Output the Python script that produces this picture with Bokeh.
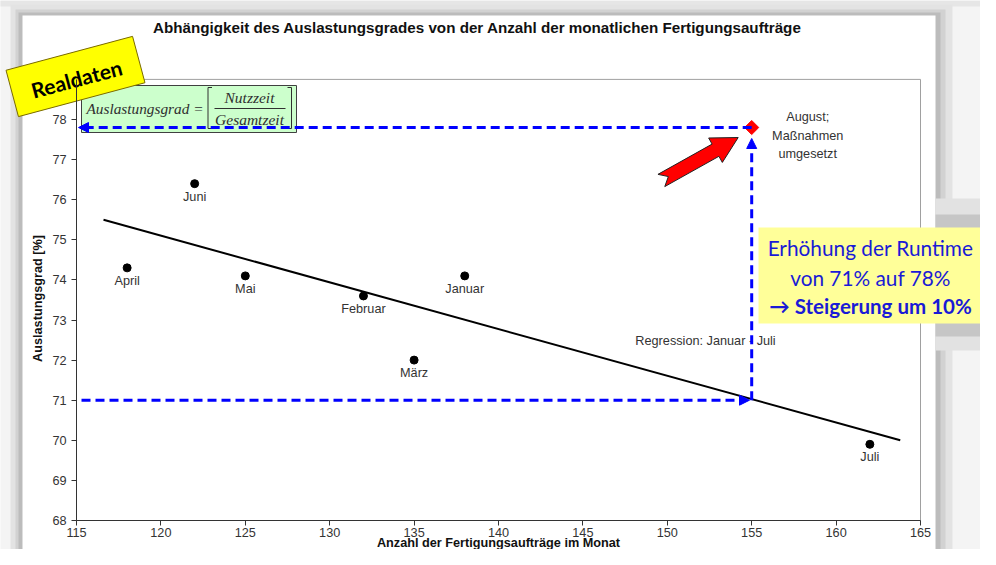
import math
from bokeh.plotting import figure
from bokeh.models import Range1d, FixedTicker, Arrow, NormalHead
from bokeh.embed import file_html
from bokeh.resources import INLINE
from bokeh.core.properties import value

# ---------------- data ----------------
months = ["Januar", "Februar", "März", "April", "Mai", "Juni", "Juli"]
orders = [138, 132, 135, 118, 125, 122, 162]
utilization = [74.1, 73.6, 72.0, 74.3, 74.1, 76.4, 69.9]
august_orders = [155]
august_util = [77.8]
august_label = ["August;\nMaßnahmen\numgesetzt"]
trend_x = [116.6, 163.8]
trend_y = [75.5, 70.0]
util_before = 71.0
util_after = 77.8
x_ticks = [115, 120, 125, 130, 135, 140, 145, 150, 155, 160, 165]
y_ticks = [68, 69, 70, 71, 72, 73, 74, 75, 76, 77, 78]
x_min, x_max = 115, 165
y_min, y_max = 68, 79

title = "Abhängigkeit des Auslastungsgrades von der Anzahl der monatlichen Fertigungsaufträge"
x_title = "Anzahl der Fertigungsaufträge im Monat"
y_title = "Auslastungsgrad [%]"
box_lines = ["Erhöhung der Runtime", "von 71% auf 78%", "→ Steigerung um 10%"]

# ---------------- layout helpers (canvas px -> data) ----------------
PX = 16.88   # px per order
PY = 40.1    # px per percent
SX0, SY0 = 76, 520   # canvas position of (115, 68)
W, H = 980, 549


def dx(sx):
    return x_min + (sx - SX0) / PX


def dy(sy):
    return y_min + (SY0 - sy) / PY


FONT = value("Liberation Sans")
FS = "12.7px"

p = figure(width=W, height=H,
           x_range=Range1d(dx(0), dx(W)), y_range=Range1d(dy(H), dy(0)),
           output_backend="svg", toolbar_location=None, min_border=0,
           background_fill_color="#f4f4f4", border_fill_color="#f4f4f4",
           outline_line_color=None)
p.grid.visible = False


def sbox(x0, y0, x1, y1, **kw):
    p.quad(left=dx(x0), right=dx(x1), top=dy(y0), bottom=dy(y1), **kw)


# background shadow + white chart panel
sbox(-5, 0, 1000, 6, fill_color="#e6e6e6", line_color=None)
sbox(10, 4, 952, 600, fill_color="#e3e3e3", line_color=None)
sbox(15, 9, 945, 600, fill_color="#d2d2d2", line_color=None)
sbox(18, 12, 940, 600, fill_color="#bcbcbc", line_color=None)
sbox(22, 15, 935, 600, fill_color="white", line_color=None)

# shadow behind the yellow box on the right
sbox(935, 198, 1000, 350, fill_color="#e2e2e2", line_color=None)
sbox(935, 214, 1000, 336, fill_color="#c6c6c6", line_color=None)

# plot area border
p.quad(left=x_min, right=x_max, bottom=y_min, top=y_max,
       fill_color=None, line_color="#a0a0a0", line_width=1)

# axes
for ax in (p.xaxis, p.yaxis):
    ax.axis_line_color = "#333333"
    ax.major_tick_line_color = "#333333"
    ax.minor_tick_line_color = None
    ax.major_tick_out = 5
    ax.major_tick_in = 0
    ax.major_label_text_font = "Liberation Sans"
    ax.major_label_text_font_size = FS
    ax.major_label_text_color = "#333333"

p.xaxis.fixed_location = y_min
p.xaxis.bounds = (x_min, x_max)
p.xaxis.ticker = FixedTicker(ticks=x_ticks)
p.xaxis.major_label_standoff = 2
p.xaxis.axis_label = x_title
p.xaxis.axis_label_text_font = "Liberation Sans"
p.xaxis.axis_label_text_font_style = "bold"
p.xaxis.axis_label_text_font_size = FS
p.xaxis.axis_label_text_color = "#111111"
p.xaxis.axis_label_standoff = -4

p.yaxis.fixed_location = x_min
p.yaxis.bounds = (y_min, y_max)
p.yaxis.ticker = FixedTicker(ticks=y_ticks)
p.yaxis.major_label_standoff = 5

# y axis title
p.text(x=[dx(37)], y=[dy(298)], text=[y_title], angle=math.pi / 2,
       text_align="center", text_baseline="middle", text_font=FONT,
       text_font_style="bold", text_font_size=FS, text_color="#111111")

# chart title
p.text(x=[dx(477)], y=[dy(27)], text=[title], text_align="center",
       text_baseline="middle", text_font=FONT, text_font_style="bold",
       text_font_size="15.2px", text_color="#111111")

# regression line
p.line(trend_x, trend_y, line_color="black", line_width=2)
p.text(x=[dx(705)], y=[dy(340)], text=["Regression: Januar - Juli"],
       text_align="center", text_baseline="middle", text_font=FONT,
       text_font_size=FS, text_color="#333333")

# monthly points + labels
p.scatter(orders, utilization, size=8, color="black")
p.text(x=orders, y=utilization, text=months, y_offset=13, text_align="center",
       text_baseline="middle", text_font=FONT, text_font_size=FS,
       text_color="#333333")

# formula box
sbox(81, 85, 296, 132, fill_color="#ccffcc", line_color="#404040", line_width=1)
SERIF = value("Liberation Serif")
p.text(x=[dx(86)], y=[dy(108)], text=["Auslastungsgrad ="], text_align="left",
       text_baseline="middle", text_font=SERIF, text_font_style="italic",
       text_font_size="15.3px", text_color="#303030")
p.text(x=[dx(249), dx(249)], y=[dy(97), dy(119)], text=["Nutzzeit", "Gesamtzeit"],
       text_align="center", text_baseline="middle", text_font=SERIF,
       text_font_style="italic", text_font_size="15.5px", text_color="#303030")
p.multi_line(xs=[[dx(214), dx(285)],
                 [dx(211.5), dx(207.5), dx(207.5), dx(211.5)],
                 [dx(287), dx(291), dx(291), dx(287)]],
             ys=[[dy(108), dy(108)],
                 [dy(87), dy(87), dy(128), dy(128)],
                 [dy(87), dy(87), dy(128), dy(128)]],
             line_color="#303030", line_width=1)

# yellow info box
sbox(758, 227, 1000, 323, fill_color="#ffff99", line_color=None)
p.text(x=[dx(870)] * 2, y=[dy(247), dy(277)], text=box_lines[:2],
       text_align="center", text_baseline="middle", text_font=value("Lato"),
       text_font_size="20.8px", text_color="#1a1ad6")
p.text(x=[dx(870)], y=[dy(305)], text=box_lines[2:], text_align="center",
       text_baseline="middle", text_font=value("Lato"), text_font_style="bold",
       text_font_size="20.5px", text_color="#1a1ad6")

# "Realdaten" tag
p.rect(x=[dx(75)], y=[dy(76)], width=131, height=48, width_units="screen",
       height_units="screen", angle=15, angle_units="deg",
       fill_color="#ffff00", line_color="#7a6a00", line_width=1)
p.text(x=[dx(76)], y=[dy(78)], text=["Realdaten"], angle=15, angle_units="deg",
       text_align="center", text_baseline="middle", text_font=value("Lato"),
       text_font_style="bold", text_font_size="21px", text_color="black")

# dashed guide arrows
BLUE = "#0000ff"


def guide(xs, ys, xe, ye):
    p.add_layout(Arrow(end=NormalHead(size=10, fill_color=BLUE, line_color=BLUE),
                       x_start=xs, y_start=ys, x_end=xe, y_end=ye,
                       line_color=BLUE, line_width=3, line_dash="9 5"))


guide(august_orders[0], util_after, dx(78), util_after)
guide(august_orders[0], util_before, august_orders[0], dy(138))
guide(dx(81), util_before, dx(749), util_before)

# August point + label
p.scatter(august_orders, august_util, marker="square", angle=math.pi / 4,
          size=10, fill_color="red", line_color="red")
p.text(x=august_orders, y=august_util, text=august_label, x_offset=56, y_offset=8,
       text_align="center", text_baseline="middle", text_font=FONT,
       text_font_size=FS, text_color="#333333", text_line_height=1.3)

# red arrow pointing at the August value
sx_aug = SX0 + (august_orders[0] - x_min) * PX
sy_aug = SY0 - (august_util[0] - y_min) * PY
tip = (sx_aug - 13.5, sy_aug + 10)
ux, uy = 0.873, -0.488
L = 88.0
tail = (tip[0] - L * ux, tip[1] - L * uy)
nx, ny = -uy, ux
shape = [(L, 0), (L - 26, 14), (L - 26, 7), (0, 7), (8, 0), (0, -7), (L - 26, -7), (L - 26, -14)]
ax_ = [dx(tail[0] + a * ux + b * nx) for a, b in shape]
ay_ = [dy(tail[1] + a * uy + b * ny) for a, b in shape]
p.patch(ax_, ay_, fill_color="#ff0000", line_color="#222222", line_width=1)

open("out.html", "w").write(file_html(p, INLINE))
